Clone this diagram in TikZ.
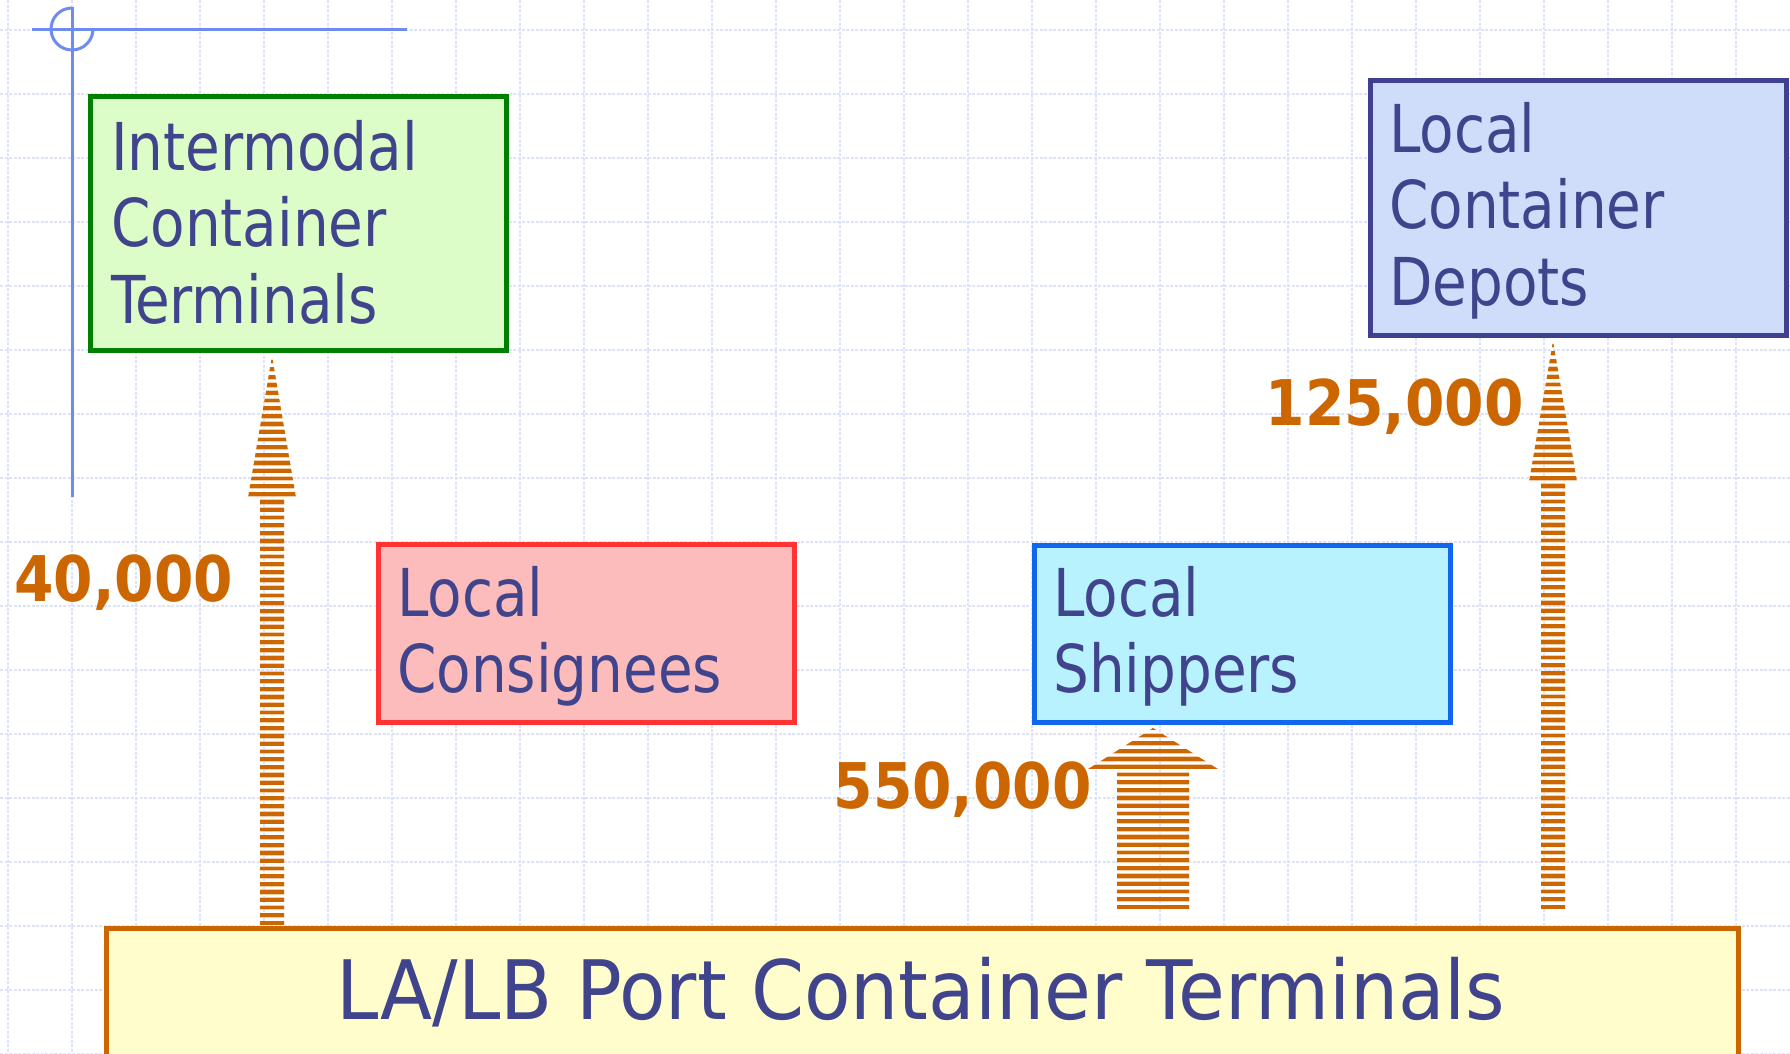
\documentclass[tikz,border=0pt]{standalone}
\usepackage{fontspec}
\setmainfont{DejaVu Sans Condensed}[FakeStretch=0.95]
\newfontfamily\portfont{DejaVu Sans Condensed}[FakeStretch=1.03]
\newfontfamily\countfont{DejaVu Sans Condensed}
\usetikzlibrary{calc}

\definecolor{ink}{RGB}{64,68,140}
\definecolor{flow}{RGB}{204,102,0}
\definecolor{flowlight}{RGB}{242,204,166}
\definecolor{gridblue}{RGB}{220,227,251}
\definecolor{guideblue}{RGB}{110,140,240}
\definecolor{icline}{RGB}{0,128,0}
\definecolor{icfill}{RGB}{220,252,200}
\definecolor{csline}{RGB}{255,51,51}
\definecolor{csfill}{RGB}{252,188,188}
\definecolor{shline}{RGB}{17,102,238}
\definecolor{shfill}{RGB}{184,242,255}
\definecolor{dpline}{RGB}{64,64,144}
\definecolor{dpfill}{RGB}{207,220,250}
\definecolor{ptline}{RGB}{204,102,0}
\definecolor{ptfill}{RGB}{255,253,204}

% striped block arrow: #1 foot, #2 tip, #3 shaft half width, #4 head half width, #5 head length
\newcommand\stripedarrow[5]{%
  \begin{scope}
    \clip let \p1=(#1), \p2=(#2) in
      (\x1-#3pt,\y1) -- (\x1-#3pt,\y2-#5pt) -- (\x1-#4pt,\y2-#5pt) -- (\x2,\y2)
      -- (\x1+#4pt,\y2-#5pt) -- (\x1+#3pt,\y2-#5pt) -- (\x1+#3pt,\y1) -- cycle;
    \foreach \k in {0,...,76}{
      \fill[flowlight] let \p1=(#1) in
        (\x1-90pt,\y1+\k*7.8pt-0.7pt) rectangle (\x1+90pt,\y1+\k*7.8pt+4.5pt);
      \fill[flow] let \p1=(#1) in
        (\x1-90pt,\y1+\k*7.8pt) rectangle (\x1+90pt,\y1+\k*7.8pt+3.8pt);
    }
  \end{scope}}

\begin{document}
\begin{tikzpicture}[x=1pt,y=-1pt,
  gridline/.style={gridblue, line width=2.6pt, dash pattern=on 3pt off 1.5pt},
  guide/.style={guideblue, line width=3pt},
  box/.style={draw, line width=5pt, inner sep=0pt, anchor=north west},
  boxtext/.style={anchor=north west, inner sep=0pt, align=left, text=ink,
    font=\fontsize{66}{76.5}\selectfont},
  count/.style={inner sep=0pt, text=flow, font=\countfont\bfseries\fontsize{63}{63}\selectfont}]

\useasboundingbox (0,0) rectangle (1790,1053);
\clip (0,0) rectangle (1790,1053);

% background grid
\foreach \gx in {8,72,...,1736} \draw[gridline] (\gx,0) -- (\gx,1053);
\foreach \gy in {30,94,...,1054} \draw[gridline] (0,\gy) -- (1790,\gy);

% corner guide mark
\draw[guide] (32,29) -- (407,29);
\draw[guide] (72,7) -- (72,497);
\draw[guide] (72,8) arc[start angle=270, end angle=0, radius=21];

% boxes (placed first so the arrows can refer to them)
\path
  node[box, draw=icline, fill=icfill, minimum width=416pt, minimum height=254pt] (ict) at (88,94) {}
  node[box, draw=csline, fill=csfill, minimum width=416pt, minimum height=178pt] (cons) at (376,542) {}
  node[box, draw=shline, fill=shfill, minimum width=416pt, minimum height=177pt] (ship) at (1032,543) {}
  node[box, draw=dpline, fill=dpfill, minimum width=416pt, minimum height=255pt] (depot) at (1368,78) {}
  node[box, draw=ptline, fill=ptfill, minimum width=1632pt, minimum height=130pt] (port) at (104,926) {};

% striped flow arrows
\coordinate (a1x) at (272,0);
\coordinate (a2x) at (1153,0);
\coordinate (a3x) at (1553,0);
\coordinate (a1foot) at ($(port.north -| a1x)+(0,-1)$);
\coordinate (a1tip)  at ($(ict.south -| a1x)+(0,3)$);
\coordinate (a2foot) at ($(port.north -| a2x)+(0,-17)$);
\coordinate (a2tip)  at ($(ship.south -| a2x)+(0,3)$);
\coordinate (a3foot) at ($(port.north -| a3x)+(0,-17)$);
\coordinate (a3tip)  at ($(depot.south -| a3x)+(0,3)$);
\stripedarrow{a1foot}{a1tip}{12}{24}{142}
\stripedarrow{a2foot}{a2tip}{36}{68}{43}
\stripedarrow{a3foot}{a3tip}{12}{24}{141}

% box labels
\node[boxtext] (ictlbl) at (111,120) {Intermodal\\Container\\Terminals};
\node[boxtext] (conslbl) at (397,566) {Local\\Consignees};
\node[boxtext] (shiplbl) at (1053,566) {Local\\Shippers};
\node[boxtext] (depotlbl) at (1389,102) {Local\\Container\\Depots};
\node[anchor=base, inner sep=0pt, text=ink, font=\portfont\fontsize{82}{82}\selectfont]
  (portlbl) at (921,1019) {LA/LB Port Container Terminals};

% volumes
\node[count, anchor=base west] (n1) at (14,601) {40,000};
\node[count, anchor=base east] (n2) at (1092,808) {550,000};
\node[count, anchor=base east] (n3) at (1524,425) {125,000};
\end{tikzpicture}
\end{document}
